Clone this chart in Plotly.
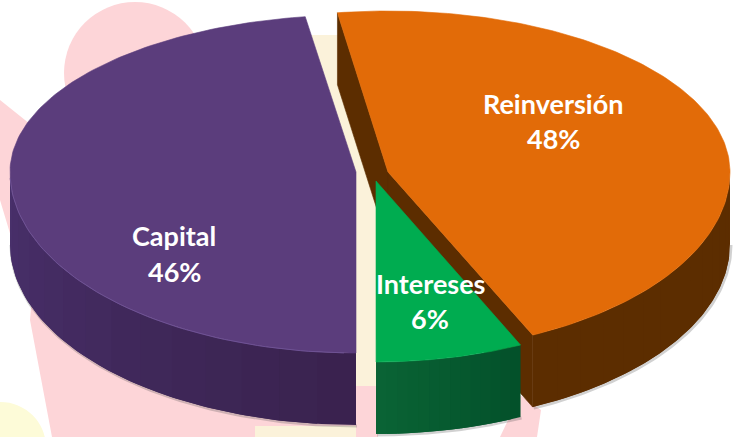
import numpy as np
import plotly.graph_objects as go

labels = ["Reinversión", "Intereses", "Capital"]
values = [48, 6, 46]
percent_text = ["48%", "6%", "46%"]

W, H = 733, 437
DEPTH = 72

# 3D projection of each exploded slice (centre, radii, rotation, perspective factor)
geometry = {
    "Reinversión": dict(cx=388, cy=172, rx=342, ryt=161, ryb=180, start=351.5, warp=0.946,
                        top="#E26B08", wall=("#5C2D00", "#5C2D00"), vis=(90, None)),
    "Intereses": dict(cx=376, cy=181, rx=342, ryt=165, ryb=181, start=155, warp=1.157,
                      top="#00AC50", wall=("#03502A", "#0A6435"), vis=(None, None)),
    "Capital": dict(cx=356, cy=172, rx=346, ryt=157, ryb=181, start=180, warp=1.036,
                    top="#5B3D7C", wall=("#39224E", "#49306B"), vis=(None, 270)),
}
label_pos = {"Reinversión": (553, 103, 138), "Intereses": (430, 283, 318), "Capital": (174, 235, 271)}
FONT = "Lato, Carlito, Calibri, sans-serif"


def ell(g, phi):
    p = np.radians(phi)
    s, c = np.sin(p), np.cos(p)
    x = g["cx"] + g["rx"] * s
    y = g["cy"] - np.where(c > 0, g["ryt"], g["ryb"]) * c
    return x, y


def poly(fig, x, y, color, width=0.6):
    fig.add_trace(go.Scatter(x=list(x), y=list(y), mode="lines", fill="toself", fillcolor=color,
                             line=dict(color=color, width=width),
                             hoverinfo="skip", showlegend=False))


def mix(a, b, t):
    ca = [int(a[i:i + 2], 16) for i in (1, 3, 5)]
    cb = [int(b[i:i + 2], 16) for i in (1, 3, 5)]
    return "rgb(%d,%d,%d)" % tuple(round(u + (v - u) * t) for u, v in zip(ca, cb))


spans = {}
for name, val in zip(labels, values):
    g = geometry[name]
    spans[name] = (g["start"], g["start"] + val * 3.6 * g["warp"])

fig = go.Figure()


def draw_wall(name):
    g = geometry[name]
    a, b = spans[name]
    lo = a if g["vis"][0] is None else g["vis"][0]
    hi = b if g["vis"][1] is None else g["vis"][1]
    if name == "Reinversión":
        lo, hi = 90, b % 360
    # soft shadow under the rim
    ph = np.linspace(lo, hi, 80)
    x, y = ell(g, ph)
    fig.add_trace(go.Scatter(x=x + 1, y=y + DEPTH + 1, mode="lines", hoverinfo="skip", showlegend=False,
                             line=dict(color="rgba(70,70,70,0.25)", width=3)))
    bands = 14
    edges = np.linspace(lo, hi, bands + 1)
    # paint bands overlapping one another so no seams show
    for i in range(bands):
        ph = np.linspace(edges[i], edges[min(i + 2, bands)], 10)
        x, y = ell(g, ph)
        t = (i + 0.5) / bands
        col = mix(g["wall"][0], g["wall"][1], t)
        poly(fig, np.r_[x, x[::-1]], np.r_[y, y[::-1] + DEPTH], col, width=0)


def draw_top(name):
    g = geometry[name]
    a, b = spans[name]
    ph = np.linspace(a, b, 160)
    x, y = ell(g, ph)
    poly(fig, np.r_[g["cx"], x, g["cx"]], np.r_[g["cy"], y, g["cy"]], g["top"])


# Reinversión: inner side faces, outer wall and top
g = geometry["Reinversión"]
a, b = spans["Reinversión"]
for phi in (a, b):
    ex, ey = ell(g, phi)
    ex, ey = float(ex), float(ey)
    poly(fig, [g["cx"], ex, ex, g["cx"], g["cx"]],
         [g["cy"], ey, ey + DEPTH, g["cy"] + DEPTH, g["cy"]], "#5C2D00")
draw_wall("Reinversión")
draw_top("Reinversión")

# Intereses
draw_wall("Intereses")
draw_top("Intereses")

# Capital
draw_wall("Capital")
draw_top("Capital")

# highlight along the front rim of the purple slice
g = geometry["Capital"]
x, y = ell(g, np.linspace(182, 268, 60))
fig.add_trace(go.Scatter(x=x, y=y, mode="lines", hoverinfo="skip", showlegend=False,
                         line=dict(color="#6E5294", width=1)))

for name, pct in zip(labels, percent_text):
    lx, y1, y2 = label_pos[name]
    fig.add_annotation(x=lx, y=y1, text="<b>%s</b>" % name, showarrow=False,
                       font=dict(family=FONT, size=27, color="white"))
    fig.add_annotation(x=lx, y=y2, text="<b>%s</b>" % pct, showarrow=False,
                       font=dict(family=FONT, size=27, color="white"))

PINK = "#FDD5D8"
CREAM = "#FBF2DA"
YEL = "#FDFBD8"
shapes = [
    dict(type="circle", x0=64, y0=2, x1=206, y1=144, fillcolor=PINK),
    dict(type="path", path="M0,100 L40,132 L40,200 L30,320 L52,437 L378,437 L378,300 L30,300 L0,200 Z", fillcolor=PINK),
    dict(type="path", path="M520,395 L541,410 L537,437 L500,437 Z", fillcolor=PINK),
    dict(type="rect", x0=300, y0=35, x1=376, y1=386, fillcolor=CREAM),
    dict(type="rect", x0=255, y0=426, x1=356, y1=437, fillcolor=CREAM),
    dict(type="circle", x0=-45, y0=402, x1=46, y1=493, fillcolor=YEL),
]
for s in shapes:
    s.update(line=dict(width=0), layer="below")

fig.update_layout(
    width=W, height=H, margin=dict(l=0, r=0, t=0, b=0), autosize=False,
    paper_bgcolor="white", plot_bgcolor="white", showlegend=False, shapes=shapes,
    xaxis=dict(range=[0, W], visible=False, fixedrange=True),
    yaxis=dict(range=[H, 0], visible=False, fixedrange=True),
)
fig.write_html("out.html", config=dict(displayModeBar=False),
               post_script="document.body.style.margin='0';document.body.style.overflow='hidden';")
